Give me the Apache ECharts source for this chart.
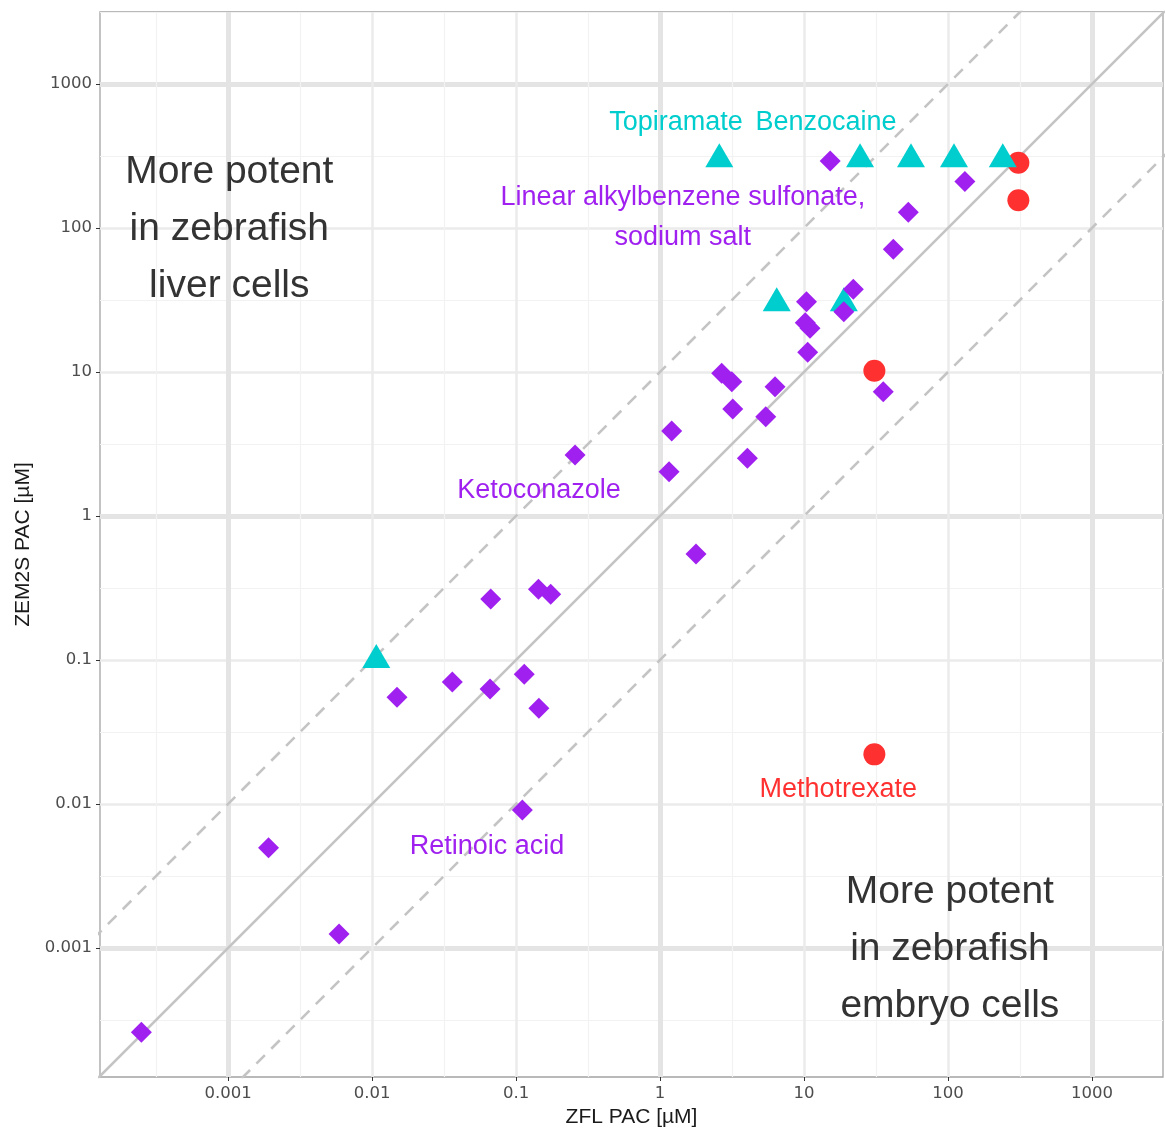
<!DOCTYPE html>
<html><head><meta charset="utf-8">
<script src="https://cdn.jsdelivr.net/npm/echarts@6/dist/echarts.min.js"></script>
<style>html,body{margin:0;padding:0;background:#fff}#c{width:1165px;height:1131px}</style>
</head><body><div id="c"></div>
<script>
// ---------- data (µM) ----------
const xRange = [0.000129, 3112];
const yRange = [0.000127, 3162];

const decadeTicks  = [0.001, 0.01, 0.1, 1, 10, 100, 1000];
const decadeLabels = ['0.001', '0.01', '0.1', '1', '10', '100', '1000'];
const thickTicks   = [0.001, 1, 1000];
const minorTicks   = [0.000316, 0.00316, 0.0316, 0.316, 3.16, 31.6, 316, 3162];

// purple diamonds
const purpleZFL  = [0.00025, 0.00191, 0.0059, 0.0149, 0.0361, 0.066, 0.0667, 0.114, 0.1106, 0.144, 0.143, 0.174,
                    0.257, 1.155, 1.205, 1.778, 2.68, 3.15, 3.2, 4.04, 5.42, 6.29, 10.4, 10.2, 11.0, 10.6,
                    15.2, 18.9, 22.0, 35.5, 41.7, 53.0, 131];
const purpleZEM  = [0.00026, 0.00497, 0.00125, 0.0551, 0.0703, 0.0629, 0.265, 0.0796, 0.00908, 0.0462, 0.31, 0.286,
                    2.65, 2.03, 3.89, 0.545, 9.8, 8.57, 5.53, 2.52, 4.89, 7.91, 30.8, 22.0, 20.1, 13.7,
                    292, 26.2, 37.5, 7.3, 71.1, 128.5, 210];
// cyan triangles
const cyanZFL    = [0.0107, 2.58, 24.5, 55.3, 110, 240, 6.46, 18.9];
const cyanZEM    = [0.1, 300, 300, 300, 300, 300, 30, 30];
// red circles
const redZFL     = [308, 308, 30.8, 30.8];
const redZEM     = [284, 156, 10.2, 0.0221];

// reference lines: ZEM = factor * ZFL
const refFactors = [1, 10, 0.1];

// annotations
const annoText = ['Topiramate', 'Benzocaine', 'Linear alkylbenzene sulfonate,\nsodium salt', 'Ketoconazole',
                  'Retinoic acid', 'Methotrexate', 'More potent\nin zebrafish\nliver cells',
                  'More potent\nin zebrafish\nembryo cells'];
const annoX    = [1.29, 14.2, 1.44, 0.1445, 0.0629, 17.3, 0.00102, 103];
const annoY    = [536, 536, 119, 1.49, 0.0051, 0.0125, 98.4, 0.000984];
const annoKind = ['cyan', 'cyan', 'purple', 'purple', 'purple', 'red', 'big', 'big'];

// ---------- styles ----------
const L = Math.log10;
const COL = { cyan: '#00CDCD', purple: '#A020F0', red: '#FF3030', big: '#333333' };
const pts = (xs, ys) => xs.map((x, i) => [L(x), L(ys[i])]);

function labelFor(v) {
  const i = decadeTicks.findIndex(t => Math.abs(L(t) - v) < 1e-6);
  return i >= 0 ? decadeLabels[i] : '';
}

function makeAxes(range, isX) {
  const base = { type: 'value', min: L(range[0]), max: L(range[1]), axisLine: { show: false, onZero: false } };
  const main = Object.assign({}, base, {
    position: isX ? 'bottom' : 'left',
    name: isX ? 'ZFL PAC [µM]' : 'ZEM2S PAC [µM]',
    nameLocation: 'middle',
    nameGap: isX ? 22 : 62,
    nameTextStyle: { fontFamily: 'Liberation Sans', fontSize: 21, color: '#1a1a1a' },
    axisTick: { show: true, customValues: decadeTicks.map(L), length: 4, lineStyle: { color: '#333333', width: 1 } },
    axisLabel: { customValues: decadeTicks.map(L), formatter: labelFor, fontFamily: 'DejaVu Sans',
                 fontSize: 16.5, color: '#4d4d4d', margin: 8 },
    splitLine: { show: true, lineStyle: { color: '#ebebeb', width: 2.5 } }
  });
  const thick = Object.assign({}, base, {
    axisTick: { show: false, customValues: thickTicks.map(L) },
    axisLabel: { show: false, customValues: thickTicks.map(L) },
    splitLine: { show: true, lineStyle: { color: '#e4e4e4', width: 5 } }
  });
  const minor = Object.assign({}, base, {
    axisTick: { show: false, customValues: minorTicks.map(L) },
    axisLabel: { show: false, customValues: minorTicks.map(L) },
    splitLine: { show: true, lineStyle: { color: '#f2f2f2', width: 1.2 } }
  });
  return [main, thick, minor];
}

const refSeries = refFactors.map(f => ({
  type: 'line', xAxisIndex: 0, yAxisIndex: 0, silent: true, symbol: 'none', z: 1,
  data: [[L(1e-6), L(1e-6 * f)], [L(1e6), L(1e6 * f)]],
  lineStyle: { color: '#c4c4c4', width: 2.6, type: f === 1 ? 'solid' : [12, 9] },
  clip: true
}));

const annoData = annoText.map((t, i) => {
  const big = annoKind[i] === 'big';
  return {
    value: [L(annoX[i]), L(annoY[i])],
    label: {
      show: true, position: 'inside', formatter: t, color: COL[annoKind[i]], opacity: 1,
      textBorderWidth: 0, fontFamily: 'Liberation Sans', fontSize: big ? 39 : 27,
      lineHeight: big ? 57 : 40, align: 'center'
    }
  };
});

const option = {
  animation: false,
  backgroundColor: '#ffffff',
  grid: { left: 100, right: 2, top: 12, bottom: 54, show: true, borderColor: '#a3a3a3', borderWidth: 1.3,
          containLabel: false, outerBoundsMode: 'none' },
  xAxis: makeAxes(xRange, true),
  yAxis: makeAxes(yRange, false),
  series: [
    ...refSeries,
    { type: 'scatter', name: 'red', symbol: 'circle', symbolSize: 22, z: 3,
      itemStyle: { color: COL.red, opacity: 1 }, data: pts(redZFL, redZEM) },
    { type: 'scatter', name: 'cyan', symbol: 'triangle', symbolSize: [28, 24], symbolOffset: [0, -4], z: 4,
      itemStyle: { color: COL.cyan, opacity: 1 }, data: pts(cyanZFL, cyanZEM) },
    { type: 'scatter', name: 'purple', symbol: 'diamond', symbolSize: 21, z: 5,
      itemStyle: { color: COL.purple, opacity: 1 }, data: pts(purpleZFL, purpleZEM) },
    { type: 'scatter', name: 'labels', symbolSize: 1, z: 6, silent: true,
      itemStyle: { color: 'rgba(0,0,0,0)', opacity: 1 }, data: annoData }
  ]
};

const chart = echarts.init(document.getElementById('c'), null, { renderer: 'canvas' });
chart.setOption(option);
</script>
</body></html>
